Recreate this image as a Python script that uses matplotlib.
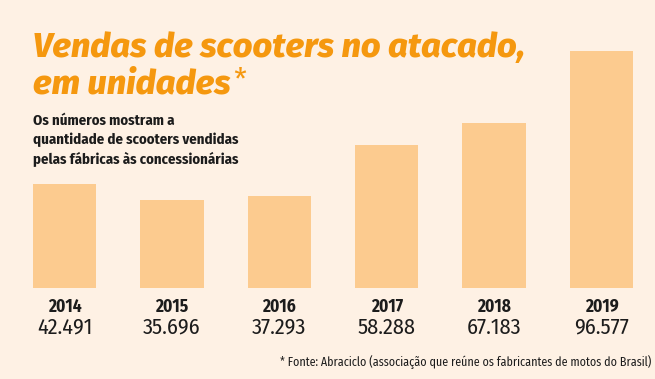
import matplotlib
matplotlib.use("Agg")
import matplotlib.pyplot as plt
import numpy as np

years = ["2014", "2015", "2016", "2017", "2018", "2019"]
sales = [42491, 35696, 37293, 58288, 67183, 96577]
value_labels = ["42.491", "35.696", "37.293", "58.288", "67.183", "96.577"]

BG = "#fef1e4"
BAR = "#fccb8f"
ORANGE = "#f5980f"
INK = "#1c1c1c"
COND = ["Fira Sans Condensed", "Roboto Condensed", "DejaVu Sans"]
WIDE = ["Fira Sans", "DejaVu Sans"]

W, H = 655, 379
fig = plt.figure(figsize=(W / 100, H / 100), dpi=100, facecolor=BG)


def fit_width(t, target_px):
    """Rescale a text's font size so it spans target_px pixels."""
    fig.canvas.draw()
    w = t.get_window_extent().width
    t.set_fontsize(t.get_fontsize() * target_px / w)


# bar area: baseline at y=288 px, tallest bar reaching y=51 px
ax = fig.add_axes([10.8 / W, (H - 288) / H, 644.4 / W, (288 - 51) / H])
ax.set_facecolor(BG)
x = np.arange(len(years))
ax.bar(x, sales, width=0.59, color=BAR, edgecolor="none")
ax.set_xlim(-0.5, len(years) - 0.5)
ax.set_ylim(0, max(sales))
ax.axis("off")

for xi, yr, lab in zip(x, years, value_labels):
    ax.annotate(yr, (xi, 0), xytext=(0, -12.6), textcoords="offset points",
                ha="center", va="center_baseline", fontsize=12.5, fontweight="bold",
                family=COND, color=INK)
    ax.annotate(lab, (xi, 0), xytext=(0, -27), textcoords="offset points",
                ha="center", va="center_baseline", fontsize=16, family=COND,
                color=INK)

t1 = fig.text(33 / W, 1 - 57 / H, "Vendas de scooters no atacado,",
              fontsize=24, fontweight="heavy", style="italic", color=ORANGE,
              family=WIDE, va="baseline")
fit_width(t1, 492)
t2 = fig.text(33 / W, 1 - 94 / H, "em unidades",
              fontsize=t1.get_fontsize(), fontweight="heavy", style="italic",
              color=ORANGE, family=WIDE, va="baseline")
fig.canvas.draw()
bb = t2.get_window_extent()
fig.text((bb.x1 + 3) / W, 1 - 89 / H, "*", fontsize=23, fontweight="normal",
         color=ORANGE, family=COND, va="baseline")

sub = fig.text(33 / W, 1 - 114 / H,
               "Os números mostram a\nquantidade de scooters vendidas\npelas fábricas às concessionárias",
               fontsize=12, fontweight="bold", family=COND, color=INK,
               va="top", linespacing=1.38)
fit_width(sub, 205)

foot = fig.text(651 / W, 1 - 361 / H,
                "* Fonte: Abraciclo (associação que reúne os fabricantes de motos do Brasil)",
                fontsize=9, family=COND, color=INK, ha="right", va="center_baseline")
fit_width(foot, 372)

fig.savefig("out.png", dpi=100, facecolor=BG)
